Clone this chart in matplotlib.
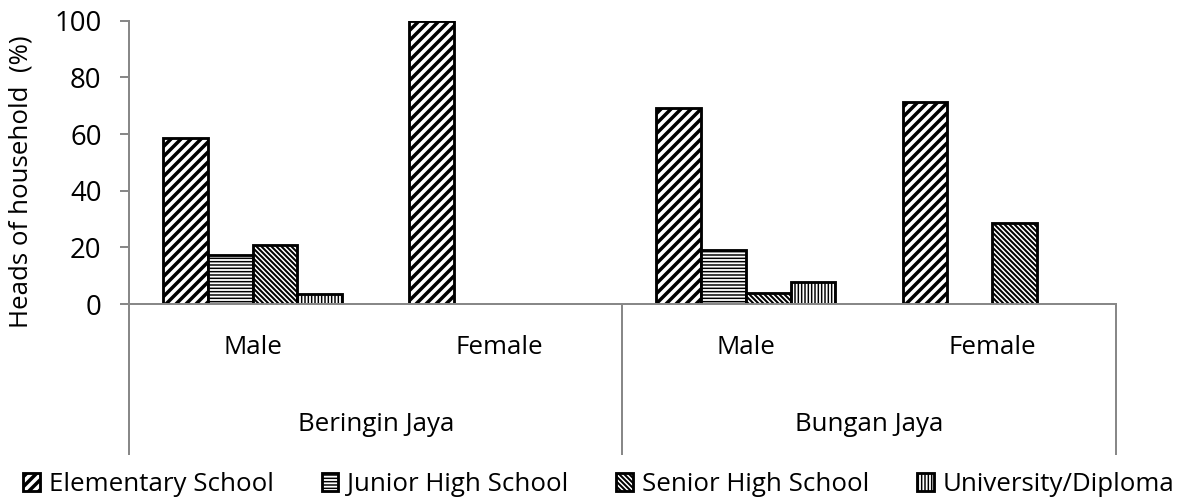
import matplotlib
matplotlib.use("Agg")
import matplotlib.pyplot as plt
import numpy as np
from matplotlib.transforms import blended_transform_factory

# Survey data: share of household heads by education level (%)
villages = ["Beringin Jaya", "Bungan Jaya"]
genders = ["Male", "Female"]
levels = ["Elementary School", "Junior High School",
          "Senior High School", "University/Diploma"]
elementary = [58.6, 100.0, 69.2, 71.4]
junior_high = [17.2, 0.0, 19.2, 0.0]
senior_high = [20.7, 0.0, 3.8, 28.6]
university = [3.4, 0.0, 7.7, 0.0]
y_ticks = [0, 20, 40, 60, 80, 100]

plt.rcParams['font.family'] = ['Open Sans', 'DejaVu Sans']
FS = 15.5
GRAY = '#888888'
DPI = 120

fig = plt.figure(figsize=(1186 / DPI, 501 / DPI), dpi=DPI)
ax = fig.add_axes([0.1090, 0.3932, 0.8316, 0.5655])

series = [elementary, junior_high, senior_high, university]
hatches = ['////', '------', '\\' * 8, '||||||']
hatch_lw = [2.1, 0.9, 1.2, 0.9]


def with_hatch_width(artist, lw):
    """Draw an artist using its own hatch line width."""
    if hasattr(artist, 'set_hatch_linewidth'):
        artist.set_hatch_linewidth(lw)
    orig = artist.draw

    def draw(renderer, _orig=orig, _lw=lw):
        with plt.rc_context({'hatch.linewidth': _lw}):
            _orig(renderer)
    artist.draw = draw


n_cat = len(villages) * len(genders)
x = np.arange(n_cat)
w = 1 / 5.5

for i, (vals, h, hl, name) in enumerate(zip(series, hatches, hatch_lw, levels)):
    with plt.rc_context({'hatch.linewidth': hl, 'hatch.color': 'black'}):
        bars = ax.bar(x + (i - 1.5) * w, vals, w, facecolor='white',
                      edgecolor='black', linewidth=1.7, hatch=h,
                      label=name, zorder=2)
    for b, v in zip(bars, vals):
        with_hatch_width(b, hl)
        if v == 0:
            b.set_visible(False)

ax.set_xlim(-0.5, n_cat - 0.5)
ax.set_ylim(0, 100)
for s in ['top', 'right']:
    ax.spines[s].set_visible(False)
for s in ['left', 'bottom']:
    ax.spines[s].set_color(GRAY)
    ax.spines[s].set_linewidth(1.2)
ax.spines['bottom'].set_zorder(3)

ax.set_xticks([])
ax.set_yticks(y_ticks)
ax.tick_params(axis='y', length=5.2, width=1.2, color=GRAY, pad=11.4,
               labelsize=16.5)

# Two-level category axis
trans = blended_transform_factory(ax.transData, ax.transAxes)
per = len(genders)
for k in range(len(villages) + 1):
    xv = k * per - 0.5
    ax.plot([xv, xv], [0, -0.53], transform=trans, color=GRAY, lw=1.2,
            clip_on=False)
for i in range(n_cat):
    ax.text(x[i], -0.152, genders[i % per], transform=trans,
            ha='center', va='center', fontsize=FS)
for j, v in enumerate(villages):
    ax.text(j * per + (per - 1) / 2, -0.424, v, transform=trans,
            ha='center', va='center', fontsize=FS)

fig.text(0.0177, 0.637, "Heads of household  (%)", rotation=90,
         ha='center', va='center', fontsize=FS)

leg = fig.legend(loc='center left', bbox_to_anchor=(0.0194, 0.032), ncol=4,
                 frameon=False, fontsize=FS, handlelength=0.65,
                 handleheight=0.7, handletextpad=0.35, columnspacing=1.85,
                 borderpad=0, borderaxespad=0)
for handle, hl in zip(leg.legend_handles, hatch_lw):
    with_hatch_width(handle, hl)
    handle.set_linewidth(1.7)

fig.savefig('out.png', dpi=DPI)
